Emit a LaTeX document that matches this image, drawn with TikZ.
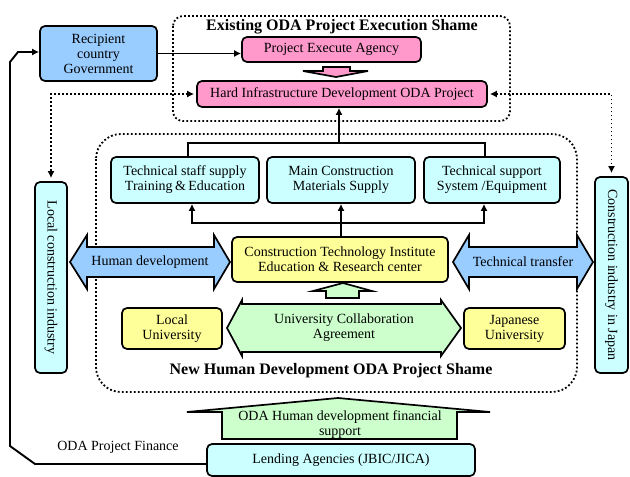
\documentclass[tikz,border=0pt]{standalone}
\usepackage{fontspec}
\setmainfont{Liberation Serif}
\usetikzlibrary{arrows.meta}
\definecolor{cblue}{HTML}{99CCFF}
\definecolor{cpink}{HTML}{FF99CC}
\definecolor{ccyan}{HTML}{CCFFFF}
\definecolor{cyellow}{HTML}{FFFF99}
\definecolor{cgreen}{HTML}{CCFFCC}
\begin{document}
\begin{tikzpicture}[x=1pt,y=-1pt,
  box/.style={draw=black, line width=1.7pt, rounded corners=5pt, align=center, inner sep=0pt, font=\fontsize{14}{15}\selectfont},
  shapeline/.style={draw=black, line width=1.7pt, line join=miter},
  conn/.style={draw=black, line width=1.9pt, -{Latex[length=7pt,width=7pt]}},
  plain/.style={draw=black, line width=1.9pt},
  dotline/.style={draw=black, line width=1.8pt, dash pattern=on 1.8pt off 2.2pt},
  dotarrow/.style={dotline, {Latex[length=7pt,width=7pt]}-{Latex[length=7pt,width=7pt]}, shorten <=2pt, shorten >=3pt},
  lbl/.style={align=center, inner sep=0pt, font=\fontsize{14}{15}\selectfont},
  title/.style={inner sep=0pt, font=\fontsize{16}{17}\selectfont\bfseries}
]
\useasboundingbox (0,0) rectangle (630,477);

% dotted frames
\draw[dotline, rounded corners=10pt] (173,16) rectangle (510,121);
\draw[dotline, rounded corners=25pt] (96,134) rectangle (577,392);
\node[title] (t1) at (342,27) {Existing ODA Project Execution Shame};
\node[title] (t2) at (331,371) {New Human Development ODA Project Shame};

% boxes
\node[box, fill=cblue, minimum width=117pt, minimum height=55pt] (recip) at (98.5,53.5) {Recipient\\country\\Government};
\node[box, fill=cpink, minimum width=179pt, minimum height=25pt] (agency) at (331.5,49.5) {Project Execute Agency};
\node[box, fill=cpink, minimum width=290pt, minimum height=26pt] (hard) at (342,94) {Hard Infrastructure Development ODA Project};
\node[box, fill=ccyan, minimum width=148pt, minimum height=46pt] (staff) at (185,180) {Technical staff supply\\Training\,\&\,Education};
\node[box, fill=ccyan, minimum width=148pt, minimum height=46pt] (mat) at (341,180) {Main Construction\\Materials Supply};
\node[box, fill=ccyan, minimum width=136pt, minimum height=46pt] (sup) at (492,180) {Technical support\\System /Equipment};
\node[box, fill=cyellow, minimum width=216pt, minimum height=45pt] (inst) at (340,259.5) {Construction Technology Institute\\Education \& Research center};
\node[box, fill=cyellow, minimum width=100pt, minimum height=41pt] (locu) at (172,328.5) {Local\\University};
\node[box, fill=cyellow, minimum width=101pt, minimum height=41pt] (japu) at (514.5,328.5) {Japanese\\University};
\node[box, fill=ccyan, rotate=-90, minimum width=191pt, minimum height=32pt] (lci) at (51,277.5) {Local construction industry};
\node[box, fill=ccyan, rotate=-90, minimum width=196pt, minimum height=33pt] (jci) at (611.5,275) {Construction industry in Japan};
\node[box, fill=ccyan, minimum width=268pt, minimum height=32pt] (lend) at (341,460) {Lending Agencies (JBIC/JICA)};

% block arrows
\filldraw[shapeline, fill=cpink] (323,67) -- (350,67) -- (350,71) -- (368,71) -- (336,77) -- (303,71) -- (323,71) -- cycle;
\filldraw[shapeline, fill=cblue] (70,262) -- (87,235) -- (87,247) -- (214,247) -- (214,235) -- (230,262) -- (214,289) -- (214,277) -- (87,277) -- (87,289) -- cycle;
\node[lbl] (hd) at (150,262) {Human development};
\filldraw[shapeline, fill=cblue] (453,262) -- (469,235) -- (469,247) -- (577,247) -- (577,235) -- (593,262) -- (577,289) -- (577,277) -- (469,277) -- (469,289) -- cycle;
\node[lbl] (tt) at (523,262) {Technical transfer};
\filldraw[shapeline, fill=cgreen] (326,298) -- (326,291) -- (313,291) -- (343,283) -- (372,291) -- (359,291) -- (359,298) -- cycle;
\filldraw[shapeline, fill=cgreen] (227,328) -- (242,300) -- (242,304) -- (441,304) -- (441,300) -- (461,328) -- (441,356) -- (441,352) -- (242,352) -- (242,356) -- cycle;
\node[lbl] (uca) at (344,328) {University Collaboration\\Agreement};
\filldraw[shapeline, fill=cgreen] (222,439) -- (222,412) -- (187,412) -- (338,398) -- (490,412) -- (457,412) -- (457,439) -- cycle;
\node[lbl] (fin) at (340,425) {ODA Human development financial\\support};

% connectors
\draw[conn] (recip.east) -- (recip.east -| agency.west);
\coordinate (tb) at (339,143);
\draw[conn] (tb) -- (tb |- hard.south);
\draw[plain] ([xshift=3pt]staff.north) |- (tb) -| ([xshift=-7pt]sup.north);
\draw[conn] (inst.north -| mat.south) -- (mat.south);
\coordinate (lb) at (341,223);
\draw[conn] (lb) -| ([xshift=7pt]staff.south);
\draw[conn] (lb) -| ([xshift=-8pt]sup.south);
\draw[dotarrow] (hard.west) -| (lci.west);
\draw[dotarrow] (hard.east) -| (jci.west);

% finance line
\coordinate (f1) at (35,464);
\coordinate (f2) at (10,446);
\coordinate (f3) at (10,62);
\coordinate (f4) at (18,52);
\draw[conn, line join=miter] ([yshift=-4pt]lend.west) -- (f1) -- (f2) -- (f3) -- (f4) -- (f4 -| recip.west);
\node[lbl] (opf) at (118,447) {ODA Project Finance};
\end{tikzpicture}
\end{document}
